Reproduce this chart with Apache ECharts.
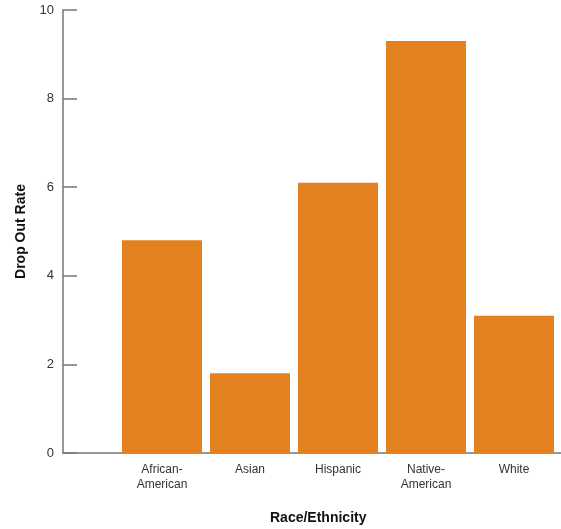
<!DOCTYPE html>
<html>
<head>
<meta charset="utf-8">
<script src="https://cdn.jsdelivr.net/npm/echarts@6/dist/echarts.min.js"></script>
<style>
html,body{margin:0;padding:0;background:#fff;}
#chart{width:561px;height:529px;}
</style>
</head>
<body>
<div id="chart"></div>
<script>
const categories = ['African-American', 'Asian', 'Hispanic', 'Native-American', 'White'];
const dropOutRate = [4.8, 1.8, 6.1, 9.3, 3.1];
const yTicks = [0, 2, 4, 6, 8, 10];
const xTitle = 'Race/Ethnicity';
const yTitle = 'Drop Out Rate';

const font = '"Liberation Sans", Arial, sans-serif';
const axisColor = '#777';
const chart = echarts.init(document.getElementById('chart'), null, {renderer: 'canvas'});
chart.setOption({
  animation: false,
  backgroundColor: '#fff',
  grid: [
    {left: 63, right: 0, top: 10, bottom: 76},
    {left: 118, right: 3, top: 10, bottom: 76}
  ],
  xAxis: [
    {
      type: 'category', gridIndex: 0, data: [''],
      axisLine: {show: true, lineStyle: {color: axisColor, width: 1.5}},
      axisTick: {show: false}, axisLabel: {show: false}
    },
    {
      type: 'category', gridIndex: 1, data: categories,
      axisLine: {show: false}, axisTick: {show: false},
      axisLabel: {
        color: '#333', fontFamily: font, fontSize: 12, margin: 9, lineHeight: 15,
        formatter: v => v.replace('-', '-\n')
      }
    }
  ],
  yAxis: [
    {
      type: 'value', gridIndex: 0, min: yTicks[0], max: yTicks[yTicks.length - 1], interval: 2,
      axisLine: {show: true, lineStyle: {color: axisColor, width: 1.5}},
      axisTick: {show: true, inside: true, length: 14, lineStyle: {color: axisColor, width: 1.5}},
      splitLine: {show: false},
      axisLabel: {color: '#333', fontFamily: font, fontSize: 13, margin: 9},
      name: yTitle, nameLocation: 'middle', nameGap: 35, nameRotate: 90,
      nameTextStyle: {color: '#111', fontFamily: font, fontSize: 14, fontWeight: 'bold'}
    },
    {
      type: 'value', gridIndex: 1, min: yTicks[0], max: yTicks[yTicks.length - 1], interval: 2,
      show: false
    }
  ],
  graphic: [{
    type: 'text', left: 320 - 50, top: 511,
    style: {text: xTitle, x: 0, y: 0, width: 100, align: 'center', fill: '#111', font: 'bold 14px ' + font}
  }],
  series: [{
    type: 'bar', xAxisIndex: 1, yAxisIndex: 1, data: dropOutRate,
    barWidth: 80, itemStyle: {color: '#E3801F'}
  }]
});
</script>
</body>
</html>
